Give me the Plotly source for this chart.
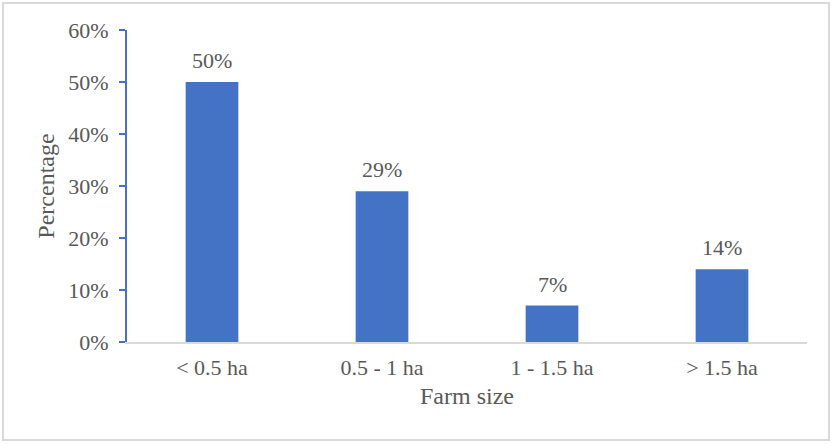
import plotly.graph_objects as go

# Farm size distribution
categories = ["< 0.5 ha", "0.5 - 1 ha", "1 - 1.5 ha", "> 1.5 ha"]
shares = [0.50, 0.29, 0.07, 0.14]
y_ticks = [0, 0.1, 0.2, 0.3, 0.4, 0.5, 0.6]
y_tick_labels = ["0%", "10%", "20%", "30%", "40%", "50%", "60%"]

BAR_BLUE = "#4472C4"
TEXT_GREY = "#595959"
FONT = "Liberation Serif, Times New Roman, serif"

W, H = 832, 444
ml, mr, mt, mb = 127, 25, 30, 102
pw, ph = W - ml - mr, H - mt - mb

def px_to_paper_x(px):
    return (px - ml) / pw

def px_to_paper_y(py):
    return (H - mb - py) / ph

fig = go.Figure(
    go.Bar(
        x=categories,
        y=shares,
        marker=dict(color=BAR_BLUE, line=dict(width=0)),
        hoverinfo="skip",
    )
)

# value labels floating above each bar
for cat, val in zip(categories, shares):
    fig.add_annotation(
        x=cat,
        y=val,
        text=f"{val:.0%}",
        showarrow=False,
        xanchor="center",
        yanchor="bottom",
        yshift=7,
        font=dict(family=FONT, size=22, color=TEXT_GREY),
    )

fig.update_layout(
    width=W,
    height=H,
    margin=dict(l=ml, r=mr, t=mt, b=mb),
    paper_bgcolor="white",
    plot_bgcolor="white",
    bargap=0.69,
    showlegend=False,
    font=dict(family=FONT, color=TEXT_GREY),
    xaxis=dict(
        showline=True,
        linecolor="#d9d9d9",
        linewidth=2,
        ticks="",
        tickfont=dict(size=22, color=TEXT_GREY),
        ticklabelstandoff=5,
        title=dict(text="Farm size", font=dict(size=24, color=TEXT_GREY), standoff=8),
        showgrid=False,
        zeroline=False,
    ),
    yaxis=dict(
        range=[0, 0.6],
        tickvals=y_ticks,
        ticktext=y_tick_labels,
        showline=True,
        linecolor=BAR_BLUE,
        linewidth=2,
        ticks="outside",
        ticklen=6,
        tickwidth=2,
        tickcolor=BAR_BLUE,
        tickfont=dict(size=22, color=TEXT_GREY),
        ticklabelstandoff=6,
        title=dict(text="Percentage", font=dict(size=24, color=TEXT_GREY), standoff=7),
        showgrid=False,
        zeroline=False,
    ),
    shapes=[
        dict(
            type="rect",
            xref="paper",
            yref="paper",
            x0=px_to_paper_x(3),
            x1=px_to_paper_x(829),
            y0=px_to_paper_y(440),
            y1=px_to_paper_y(3),
            line=dict(color="#d9d9d9", width=2),
            fillcolor="rgba(0,0,0,0)",
            layer="below",
        )
    ],
)

fig.write_html("out.html")
